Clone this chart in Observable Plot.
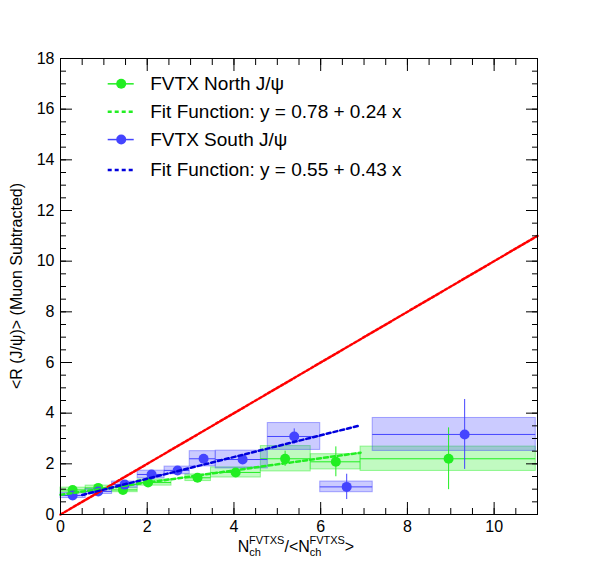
<!DOCTYPE html>
<html lang="en">
<head>
<meta charset="UTF-8">
<script src="https://cdn.jsdelivr.net/npm/d3@7"></script>
<script src="https://cdn.jsdelivr.net/npm/@observablehq/plot@0.6"></script>
<style>
  body { margin: 0; background: #fff; font-family: "Liberation Sans", Arial, sans-serif; }
</style>
</head>
<body>
<div id="chart"></div>
<script>
// North (green) points
const northX   = [0.28, 0.87, 1.44, 2.02, 3.16, 4.04, 5.18, 6.35, 8.95];
const northY   = [0.97, 1.05, 0.97, 1.26, 1.45, 1.66, 2.20, 2.08, 2.20];
const northLo  = [0.00, 0.58, 1.19, 1.78, 2.88, 3.47, 4.62, 5.77, 6.92];
const northHi  = [0.58, 1.19, 1.78, 2.56, 3.47, 4.62, 5.77, 6.92, 10.96];
const northErr = [0.08, 0.10, 0.10, 0.12, 0.15, 0.15, 0.30, 0.59, 1.22];
const northSys = [0.09, 0.09, 0.09, 0.12, 0.13, 0.20, 0.50, 0.30, 0.48];
// South (blue) points
const southX   = [0.28, 0.87, 1.48, 2.10, 2.70, 3.30, 4.20, 5.39, 6.60, 9.32];
const southY   = [0.75, 0.91, 1.18, 1.58, 1.74, 2.20, 2.17, 3.08, 1.09, 3.16];
const southLo  = [0.00, 0.58, 1.19, 1.78, 2.40, 2.98, 3.58, 4.78, 5.99, 7.20];
const southHi  = [0.58, 1.19, 1.78, 2.40, 2.98, 3.58, 4.78, 5.99, 7.20, 10.96];
const southErr = [0.10, 0.10, 0.12, 0.15, 0.15, 0.12, 0.15, 0.30, 0.50, 1.38];
const southSys = [0.10, 0.10, 0.12, 0.15, 0.15, 0.30, 0.35, 0.53, 0.21, 0.65];
// fit lines (endpoints)
const northFitX = [0, 6.92], northFitY = [0.78, 2.44];
const southFitX = [0.5, 6.87], southFitY = [0.77, 3.50];
const diagX = [0, 11], diagY = [0, 11];

const green = "#22ee22", blue = "#4444ff";
const pts = (xs, ys, lo, hi, e, s) => xs.map((x, i) => ({x, y: ys[i], lo: lo[i], hi: hi[i], e: e[i], s: s[i]}));
const north = pts(northX, northY, northLo, northHi, northErr, northSys);
const south = pts(southX, southY, southLo, southHi, southErr, southSys);
const line = (xs, ys) => xs.map((x, i) => ({x, y: ys[i]}));

const legend = [
  {y: 17.0, label: "FVTX North J/\u03c8", c: green, dot: true},
  {y: 15.9, label: "Fit Function: y = 0.78 + 0.24 x", c: green, dot: false},
  {y: 14.8, label: "FVTX South J/\u03c8", c: blue, dot: true},
  {y: 13.6, label: "Fit Function: y = 0.55 + 0.43 x", c: "#0000dd", dot: false}
];

const boxes = (d, c) => Plot.rect(d, {x1: "lo", x2: "hi", y1: d => d.y - d.s, y2: d => d.y + d.s,
  fill: c, fillOpacity: 0.28, stroke: c, strokeOpacity: 0.45});
const series = (d, c) => [
  Plot.ruleY(d, {x1: "lo", x2: "hi", y: "y", stroke: c}),
  Plot.ruleX(d, {x: "x", y1: d => d.y - d.e, y2: d => d.y + d.e, stroke: c}),
  Plot.dot(d, {x: "x", y: "y", r: 5, fill: c})
];
const minorX = d3.range(0, 11.01, 0.5), minorY = d3.range(0, 18.01, 0.5);

const plot = Plot.plot({
  width: 596, height: 572,
  marginLeft: 60, marginRight: 59, marginTop: 58, marginBottom: 58,
  style: {fontFamily: "Liberation Sans, Arial, sans-serif", fontSize: "16px", background: "#fff"},
  x: {domain: [0, 11]},
  y: {domain: [0, 18]},
  marks: [
    boxes(north, green), boxes(south, blue),
    ...series(north, green), ...series(south, blue),
    Plot.line(line(diagX, diagY), {x: "x", y: "y", stroke: "red", strokeWidth: 2.5, strokeDasharray: "3,2"}),
    Plot.line(line(northFitX, northFitY), {x: "x", y: "y", stroke: green, strokeWidth: 2.5, strokeDasharray: "4,3"}),
    Plot.line(line(southFitX, southFitY), {x: "x", y: "y", stroke: "#0000dd", strokeWidth: 2.5, strokeDasharray: "4,3"}),
    Plot.axisX({ticks: d3.range(0, 11, 2), tickSize: -12, tickPadding: 18, fontSize: 16, label: null}),
    Plot.axisX({ticks: minorX, tickSize: -6, text: null, label: null}),
    Plot.axisX({anchor: "top", ticks: d3.range(0, 11, 2), tickSize: -12, text: null, label: null}),
    Plot.axisX({anchor: "top", ticks: minorX, tickSize: -6, text: null, label: null}),
    Plot.axisY({ticks: d3.range(0, 19, 2), tickSize: -12, tickPadding: 18, fontSize: 16, label: null}),
    Plot.axisY({ticks: minorY, tickSize: -6, text: null, label: null}),
    Plot.axisY({anchor: "right", ticks: d3.range(0, 19, 2), tickSize: -12, text: null, label: null}),
    Plot.axisY({anchor: "right", ticks: minorY, tickSize: -6, text: null, label: null}),
    Plot.frame({stroke: "#000"}),
    Plot.ruleY(legend.filter(d => d.dot), {x1: 1.1, x2: 1.7, y: "y", stroke: "c", strokeWidth: 1.5}),
    Plot.ruleY(legend.filter(d => !d.dot), {x1: 1.1, x2: 1.7, y: "y", stroke: "c", strokeWidth: 2.5, strokeDasharray: "4,3"}),
    Plot.dot(legend.filter(d => d.dot), {x: 1.4, y: "y", r: 5, fill: "c"}),
    Plot.text(legend, {x: 2.07, y: "y", text: "label", textAnchor: "start", fontSize: 19})
  ]
});

const svg = d3.select(plot);
svg.append("text")
  .attr("transform", "translate(22,286) rotate(-90)")
  .attr("text-anchor", "middle").attr("font-size", 16)
  .text("<R (J/\u03c8)> (Muon Subtracted)");
const xt = svg.append("text").attr("x", 296).attr("y", 552).attr("text-anchor", "middle").attr("font-size", 16);
xt.append("tspan").text("N");
xt.append("tspan").attr("font-size", 11).attr("dy", 4).text("ch");
xt.append("tspan").attr("font-size", 11).attr("dx", -12).attr("dy", -12).text("FVTXS");
xt.append("tspan").attr("dy", 8).text("/<N");
xt.append("tspan").attr("font-size", 11).attr("dy", 4).text("ch");
xt.append("tspan").attr("font-size", 11).attr("dx", -12).attr("dy", -12).text("FVTXS");
xt.append("tspan").attr("dy", 8).text(">");
document.getElementById("chart").appendChild(plot);
</script>
</body>
</html>
